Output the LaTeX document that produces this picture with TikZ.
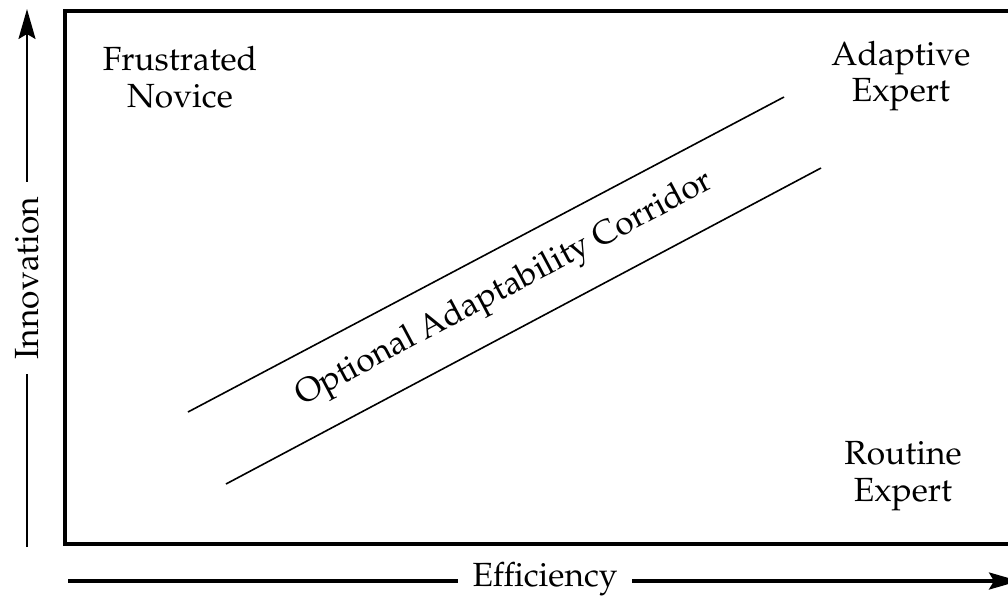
\documentclass[tikz,border=0pt]{standalone}
\usepackage[T1]{fontenc}
\usepackage{mathpazo}
\usetikzlibrary{arrows.meta}
\tikzset{
  lbl/.style={font=\fontsize{33.5}{36.5}\selectfont, align=center, inner sep=0pt},
  axis/.style={-{Stealth[length=30pt,width=17pt,inset=5pt]}},
  axislbl/.style={lbl, fill=white, inner xsep=15pt, inner ysep=4pt},
  corridor/.style={line width=1.6pt},
  frame/.style={line width=3.2pt}
}
\begin{document}
\begin{tikzpicture}[x=1pt,y=-1pt]
\useasboundingbox (0,0) rectangle (1008,597);
% frame (right edge lies beyond the picture)
\draw[frame] (65,11) rectangle (1040,544);
% corridor lines
\coordinate (a1) at (188,412);
\coordinate (a2) at (784,97);
\coordinate (b1) at (226,484);
\coordinate (b2) at (821,168);
\draw[corridor] (a1) -- (a2);
\draw[corridor] (b1) -- (b2);
\node[lbl, rotate=27.95] (corr) at (505,290) {Optional Adaptability Corridor};
% quadrant labels
\node[lbl] (fn) at (180,77) {Frustrated\\Novice};
\node[lbl] (ae) at (901,76) {Adaptive\\Expert};
\node[lbl] (re) at (903,476) {Routine\\Expert};
% axes
\coordinate (v0) at (27,547);
\coordinate (v1) at (27,9);
\draw[axis, line width=2pt] (v0) -- (v1);
\node[axislbl, rotate=90] (inn) at (27,278) {Innovation};
\coordinate (h0) at (68,581);
\coordinate (h1) at (1019,581);
\draw[axis, line width=3.2pt] (h0) -- (h1);
\node[axislbl] (eff) at (545,579) {Efficiency};
\end{tikzpicture}
\end{document}
